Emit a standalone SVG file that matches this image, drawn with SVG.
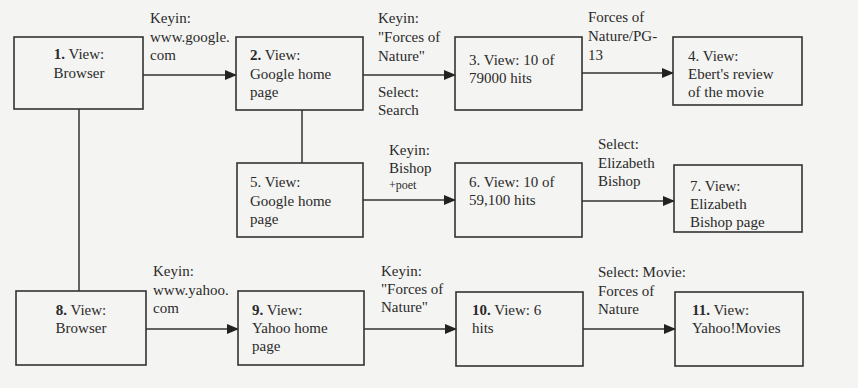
<svg xmlns="http://www.w3.org/2000/svg" width="858" height="388" viewBox="0 0 858 388">
<defs>
<marker id="ah" markerWidth="12" markerHeight="10" refX="11" refY="5" orient="auto" markerUnits="userSpaceOnUse">
<path d="M0,0 L12,5 L0,10 Z" fill="#222"/>
</marker>
<style>
.box{fill:none;stroke:#333;stroke-width:1.6}
.ln{fill:none;stroke:#333;stroke-width:1.5}
.arr{fill:none;stroke:#333;stroke-width:1.5;marker-end:url(#ah)}
text{font-family:"Liberation Serif","Times New Roman",serif;font-size:15px;fill:#2a2a2a}
.c{text-anchor:middle}
.sm{font-size:12px}
</style>
</defs>
<rect width="858" height="388" fill="#f4f4f2"/>
<g id="connectors">
<line class="ln" x1="79" y1="109" x2="79" y2="291"/>
<line class="ln" x1="302" y1="110" x2="302" y2="163"/>
<line class="arr" x1="143" y1="75" x2="236" y2="75"/>
<line class="arr" x1="363" y1="75" x2="455" y2="75"/>
<line class="arr" x1="582" y1="73" x2="673" y2="73"/>
<line class="arr" x1="363" y1="200" x2="455" y2="200"/>
<line class="arr" x1="582" y1="201" x2="674" y2="201"/>
<line class="arr" x1="146" y1="329" x2="238" y2="329"/>
<line class="arr" x1="364" y1="329" x2="456" y2="329"/>
<line class="arr" x1="583" y1="329" x2="675" y2="329"/>
<g id="labels">
<text x="150" y="23">Keyin:</text><text x="150" y="42">www.google.</text><text x="150" y="60">com</text>
<text x="378" y="23">Keyin:</text><text x="378" y="42">"Forces of</text><text x="378" y="61">Nature"</text>
<text x="378" y="97">Select:</text><text x="378" y="115">Search</text>
<text x="588" y="22">Forces of</text><text x="588" y="41">Nature/PG-</text><text x="588" y="60">13</text>
<text x="389" y="155">Keyin:</text><text x="389" y="173">Bishop</text><text class="sm" x="389" y="189">+poet</text>
<text x="598" y="149">Select:</text><text x="598" y="168">Elizabeth</text><text x="598" y="186">Bishop</text>
<text x="153" y="276">Keyin:</text><text x="153" y="295">www.yahoo.</text><text x="153" y="313">com</text>
<text x="381" y="276">Keyin:</text><text x="381" y="294">"Forces of</text><text x="381" y="312">Nature"</text>
<text x="598" y="277">Select: Movie:</text><text x="598" y="296">Forces of</text><text x="598" y="314">Nature</text>
</g>
</g>
<g id="n1"><rect class="box" x="14" y="37" width="129" height="72"/><text class="c" x="79" y="59"><tspan font-weight="bold">1.</tspan> View:</text><text class="c" x="79" y="78">Browser</text></g>
<g id="n2"><rect class="box" x="236" y="37" width="127" height="73"/><text x="250" y="60"><tspan font-weight="bold">2.</tspan> View:</text><text x="250" y="79">Google home</text><text x="250" y="97">page</text></g>
<g id="n3"><rect class="box" x="455" y="37" width="127" height="73"/><text x="469" y="65">3. View: 10 of</text><text x="469" y="83">79000 hits</text></g>
<g id="n4"><rect class="box" x="673" y="37" width="129" height="68"/><text x="688" y="61">4. View:</text><text x="688" y="79">Ebert's review</text><text x="688" y="97">of the movie</text></g>
<g id="n5"><rect class="box" x="237" y="163" width="126" height="74"/><text x="250" y="187">5. View:</text><text x="250" y="206">Google home</text><text x="250" y="224">page</text></g>
<g id="n6"><rect class="box" x="455" y="163" width="127" height="74"/><text x="469" y="187">6. View: 10 of</text><text x="469" y="205">59,100 hits</text></g>
<g id="n7"><rect class="box" x="674" y="165" width="128" height="67"/><text x="690" y="191">7. View:</text><text x="690" y="209">Elizabeth</text><text x="690" y="227">Bishop page</text></g>
<g id="n8"><rect class="box" x="16" y="291" width="130" height="74"/><text class="c" x="81" y="315"><tspan font-weight="bold">8.</tspan> View:</text><text class="c" x="81" y="333">Browser</text></g>
<g id="n9"><rect class="box" x="238" y="291" width="126" height="74"/><text x="252" y="315"><tspan font-weight="bold">9.</tspan> View:</text><text x="252" y="333">Yahoo home</text><text x="252" y="351">page</text></g>
<g id="n10"><rect class="box" x="456" y="292" width="127" height="74"/><text x="472" y="315"><tspan font-weight="bold">10.</tspan> View: 6</text><text x="472" y="333">hits</text></g>
<g id="n11"><rect class="box" x="675" y="292" width="128" height="74"/><text x="692" y="315"><tspan font-weight="bold">11.</tspan> View:</text><text x="692" y="333">Yahoo!Movies</text></g>
</svg>
